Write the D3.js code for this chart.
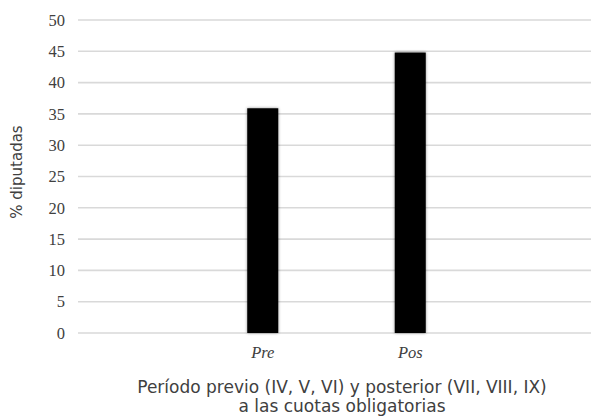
<!DOCTYPE html>
<html><head><meta charset="utf-8">
<script src="https://cdn.jsdelivr.net/npm/d3@7/dist/d3.min.js"></script>
<style>body{margin:0;background:#fff}
.serif{font-family:'Liberation Serif','Times New Roman',serif}
.sans{font-family:'DejaVu Sans',sans-serif}
</style>
</head><body>
<svg id="c" width="591" height="417"></svg>
<script>
const categories = ["Pre", "Pos"];
const values = [35.9, 44.8];
const yTicks = [0, 5, 10, 15, 20, 25, 30, 35, 40, 45, 50];
const yTitle = "% diputadas";
const xTitle = ["Período previo (IV, V, VI) y posterior (VII, VIII, IX)", "a las cuotas obligatorias"];

const svg = d3.select("#c");
const defs = svg.append("defs");
const f = defs.append("filter").attr("id","sh").attr("x","-50%").attr("y","-10%").attr("width","200%").attr("height","120%");
f.append("feDropShadow").attr("dx",0).attr("dy",0).attr("stdDeviation",1.6).attr("flood-color","#000").attr("flood-opacity",0.45);

const y = d3.scaleLinear().domain([0, 50]).range([333, 20]);
const x = d3.scalePoint().domain(categories).range([189, 484]).padding(0.5);
const barW = 31;

svg.append("g").selectAll("line").data(yTicks).join("line")
  .attr("x1", 78).attr("x2", 591)
  .attr("y1", d => y(d)).attr("y2", d => y(d))
  .attr("stroke", "#d9d9d9").attr("stroke-width", 1.6);

svg.append("g").selectAll("text").data(yTicks).join("text")
  .attr("class", "serif")
  .attr("x", 65).attr("y", d => y(d)).attr("dy", "0.35em")
  .attr("text-anchor", "end").attr("font-size", 16.5)
  .attr("fill", "#404040").text(d => d);

svg.append("g").selectAll("rect").data(values).join("rect")
  .attr("x", (d, i) => x(categories[i]) - barW / 2)
  .attr("width", barW)
  .attr("y", d => y(d))
  .attr("height", d => y(0) - y(d))
  .attr("fill", "#000").attr("filter", "url(#sh)");

svg.append("g").selectAll("text").data(categories).join("text")
  .attr("class", "serif")
  .attr("x", d => x(d)).attr("y", 358)
  .attr("text-anchor", "middle")
  .attr("font-style", "italic").attr("font-size", 16.5)
  .attr("fill", "#404040").text(d => d);

svg.append("text")
  .attr("class", "sans")
  .attr("transform", "translate(22,172) rotate(-90)")
  .attr("text-anchor", "middle").attr("font-size", 15)
  .attr("fill", "#404040").text(yTitle);

svg.append("g").selectAll("text").data(xTitle).join("text")
  .attr("class", "sans")
  .attr("x", 342).attr("y", (d, i) => 393 + i * 18.5)
  .attr("text-anchor", "middle").attr("font-size", 17)
  .attr("fill", "#404040").text(d => d);
</script>
</body></html>
